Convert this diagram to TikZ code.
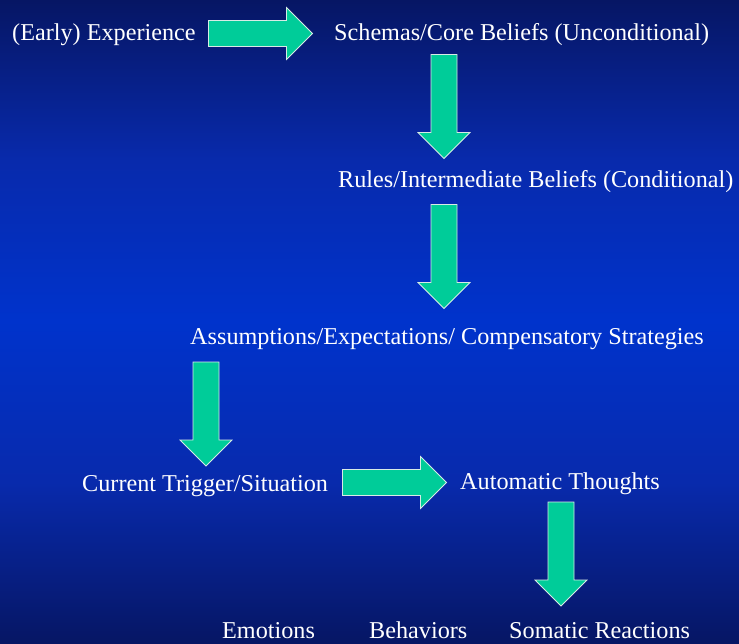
\documentclass[tikz,border=0pt]{standalone}
\usepackage{fontspec}
\setmainfont{Liberation Serif}
\definecolor{navy}{RGB}{6,22,100}
\definecolor{steel}{RGB}{8,42,172}
\definecolor{royal}{RGB}{0,51,204}
\definecolor{mint}{RGB}{0,204,153}
\definecolor{rim}{RGB}{215,235,230}
% slide background: dark at top and bottom, bright blue in the middle
% (the path covers the 25bp..75bp band of the shading)
\pgfdeclareverticalshading{slidebg}{100bp}{%
  color(0bp)=(navy); color(25bp)=(navy); color(37.5bp)=(steel);
  color(50bp)=(royal); color(62.5bp)=(steel); color(75bp)=(navy);
  color(100bp)=(navy)}
\tikzset{
  lbl/.style={anchor=base west, inner sep=0pt, text=white, font=\fontsize{24.2pt}{28pt}\selectfont},
  blockarrow/.style={fill=mint, draw=rim, line width=0.8pt, line join=miter}
}
% block arrow pointing down, from the top-left corner of its shaft
\newcommand{\blkdown}[1]{%
  \draw[blockarrow] #1 -- ++(26,0) -- ++(0,78) -- ++(13,0) -- ++(-26,26)
    -- ++(-26,-26) -- ++(13,0) -- cycle;}
% block arrow pointing right, from the top-left corner of its shaft
\newcommand{\blkright}[1]{%
  \draw[blockarrow] #1 -- ++(78,0) -- ++(0,-13) -- ++(26,26) -- ++(-26,26)
    -- ++(0,-13) -- ++(-78,0) -- cycle;}
\begin{document}
\begin{tikzpicture}[x=1pt,y=-1pt]
  \shade[shading=slidebg] (0pt,0pt) rectangle (739pt,-643pt);
  \useasboundingbox (0pt,0pt) rectangle (739pt,-643pt);

  % labels
  \node[lbl] (exp)  at (12,40)    {(Early) Experience};
  \node[lbl] (core) at (334,40)   {Schemas/Core Beliefs (Unconditional)};
  \node[lbl] (rule) at (338,187)  {Rules/Intermediate Beliefs (Conditional)};
  \node[lbl] (assm) at (190,344.5){Assumptions/Expectations/ Compensatory Strategies};
  \node[lbl] (trig) at (82,491)   {Current Trigger/Situation};
  \node[lbl] (auto) at (460,489)  {Automatic Thoughts};
  \node[lbl] (emo)  at (222,638.5){Emotions};
  \node[lbl] (beh)  at (369,638.5){Behaviors};
  \node[lbl] (som)  at (509,638.5){Somatic Reactions};

  % block arrows between the stages
  \coordinate (a1) at (208.5,20.5);
  \coordinate (a2) at (431,54.5);
  \coordinate (a3) at (431,204.5);
  \coordinate (a4) at (193,362);
  \coordinate (a5) at (342.5,469.5);
  \coordinate (a6) at (548,502);
  \blkright{(a1)}
  \blkdown{(a2)}
  \blkdown{(a3)}
  \blkdown{(a4)}
  \blkright{(a5)}
  \blkdown{(a6)}
\end{tikzpicture}
\end{document}
